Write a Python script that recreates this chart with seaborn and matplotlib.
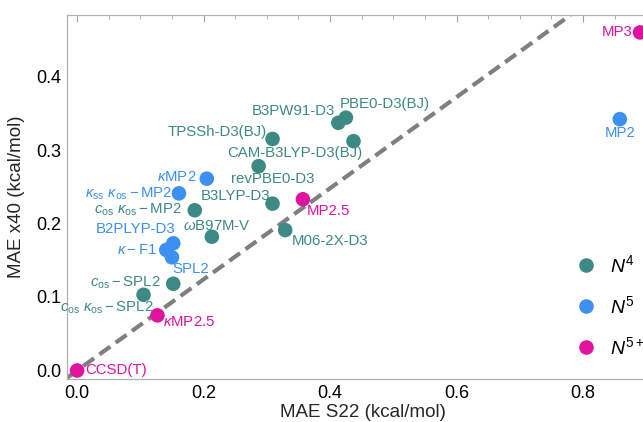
import matplotlib
matplotlib.use('Agg')
import matplotlib.pyplot as plt
import seaborn as sns
import pandas as pd
from matplotlib.ticker import MultipleLocator, FormatStrFormatter

# ---------------- data ----------------
methods = ["CCSD(T)", "kMP2.5", "cos kos-SPL2", "cos-SPL2", "SPL2", "k-F1",
           "B2PLYP-D3", "wB97M-V", "cos kos-MP2", "kss kos-MP2", "kMP2",
           "B3LYP-D3", "MP2.5", "M06-2X-D3", "revPBE0-D3", "TPSSh-D3(BJ)",
           "CAM-B3LYP-D3(BJ)", "B3PW91-D3", "PBE0-D3(BJ)", "MP2", "MP3"]
labels = ["CCSD(T)", r"$\kappa$MP2.5", r"$c_{\rm os}\ \kappa_{\rm os}-$SPL2",
          r"$c_{\rm os}-$SPL2", "SPL2", r"$\kappa-$F1", "B2PLYP-D3",
          r"$\omega$B97M-V", r"$c_{\rm os}\ \kappa_{\rm os}-$MP2",
          r"$\kappa_{\rm ss}\ \kappa_{\rm os}-$MP2", r"$\kappa$MP2",
          "B3LYP-D3", "MP2.5", "M06-2X-D3", "revPBE0-D3", "TPSSh-D3(BJ)",
          "CAM-B3LYP-D3(BJ)", "B3PW91-D3", "PBE0-D3(BJ)", "MP2", "MP3"]
mae_s22 = [0.000, 0.127, 0.105, 0.152, 0.150, 0.141, 0.152, 0.213, 0.186, 0.161,
           0.205, 0.309, 0.357, 0.329, 0.287, 0.309, 0.437, 0.413, 0.425, 0.858, 0.890]
mae_x40 = [0.000, 0.075, 0.103, 0.118, 0.154, 0.164, 0.173, 0.182, 0.218, 0.241,
           0.261, 0.227, 0.233, 0.191, 0.278, 0.315, 0.312, 0.337, 0.344, 0.342, 0.460]
scaling = ["N5+", "N5+", "N4", "N4", "N5", "N5", "N5", "N4", "N4", "N5", "N5",
           "N4", "N5+", "N4", "N4", "N4", "N4", "N4", "N4", "N5", "N5+"]
scaling_order = ["N4", "N5", "N5+"]
scaling_labels = [r"$N^4$", r"$N^5$", r"$N^{5+}$"]
ref_slope = 0.62

# ---------------- style ----------------
colors = {"N4": "#3d8a85", "N5": "#3c91f0", "N5+": "#e0139e"}
# label placement: (dx, dy) pixel offsets and horizontal alignment
place = {
    "CCSD(T)": (8, 0, "left"), "kMP2.5": (6, -7, "left"),
    "cos kos-SPL2": (10, -13, "right"), "cos-SPL2": (-13, 1, "right"),
    "SPL2": (0, -12, "left"), "k-F1": (-9, 0, "right"),
    "B2PLYP-D3": (2, 14, "right"), "wB97M-V": (5, 11, "center"),
    "cos kos-MP2": (-13, 0, "right"), "kss kos-MP2": (-7, 0, "right"),
    "kMP2": (-10, 2, "right"), "B3LYP-D3": (-2, 8, "right"),
    "MP2.5": (4, -12, "left"), "M06-2X-D3": (7, -11, "left"),
    "revPBE0-D3": (14, -13, "center"), "TPSSh-D3(BJ)": (-6, 7, "right"),
    "CAM-B3LYP-D3(BJ)": (9, -12, "right"), "B3PW91-D3": (-3, 12, "right"),
    "PBE0-D3(BJ)": (-6, 14, "left"), "MP2": (0, -14, "center"),
    "MP3": (-8, 0, "right"),
}

sns.set_theme(style="white")
plt.rcParams['font.family'] = ['Liberation Sans', 'DejaVu Sans']
plt.rcParams['mathtext.fontset'] = 'custom'
plt.rcParams['mathtext.rm'] = 'Liberation Sans'
plt.rcParams['mathtext.it'] = 'Liberation Sans:italic'
plt.rcParams['mathtext.bf'] = 'Liberation Sans:bold'

df = pd.DataFrame({"method": methods, "label": labels, "s22": mae_s22,
                   "x40": mae_x40, "scaling": scaling})

fig = plt.figure(figsize=(6.43, 4.22), dpi=100)
ax = fig.add_axes([67/643, 1 - 379/422, 592/643, (379 - 15)/422])

ax.axline((0, 0), slope=ref_slope, color="#7f7f7f", lw=3.0,
          dashes=(3.2, 1.6), zorder=1)

sns.scatterplot(data=df, x="s22", y="x40", hue="scaling", hue_order=scaling_order,
                palette=colors, s=110, edgecolor="none", ax=ax, zorder=3,
                clip_on=False)

for _, r in df.iterrows():
    dx, dy, ha = place[r["method"]]
    ax.annotate(r["label"], (r["s22"], r["x40"]), xytext=(dx, dy),
                textcoords="offset pixels", ha=ha, va="center",
                fontsize=10.8, color=colors[r["scaling"]], zorder=4,
                annotation_clip=False)

ax.set_xlim(-0.016, 0.92)
ax.set_ylim(-0.0116, 0.4837)
ax.xaxis.set_major_locator(MultipleLocator(0.2))
ax.xaxis.set_minor_locator(MultipleLocator(0.05))
ax.yaxis.set_major_locator(MultipleLocator(0.1))
ax.yaxis.set_minor_locator(MultipleLocator(0.02))
ax.xaxis.set_major_formatter(FormatStrFormatter("%.1f"))
ax.yaxis.set_major_formatter(FormatStrFormatter("%.1f"))
ax.tick_params(which="both", direction="in", top=True, right=True,
               color="#a0a0a0", labelsize=13, labelcolor="black")
ax.tick_params(which="major", length=5, width=0.8, pad=4)
ax.tick_params(which="minor", length=3, width=0.6)
for sp in ax.spines.values():
    sp.set_color("#b0b0b0")
    sp.set_linewidth(0.9)

ax.set_xlabel("MAE S22 (kcal/mol)", fontsize=13.5, labelpad=2)
ax.set_ylabel("MAE x40 (kcal/mol)", fontsize=13.5, labelpad=8)

handles, _ = ax.get_legend_handles_labels()
leg = ax.legend(handles, scaling_labels, loc="center left",
                bbox_to_anchor=(576/643, 1 - 306/422), bbox_transform=fig.transFigure,
                frameon=False, fontsize=14, labelspacing=1.0, handlelength=1.0,
                handletextpad=0.75, markerscale=1.0, borderpad=0, borderaxespad=0)
for t in leg.get_texts():
    t.set_color("black")

fig.savefig("out.png", dpi=100)
